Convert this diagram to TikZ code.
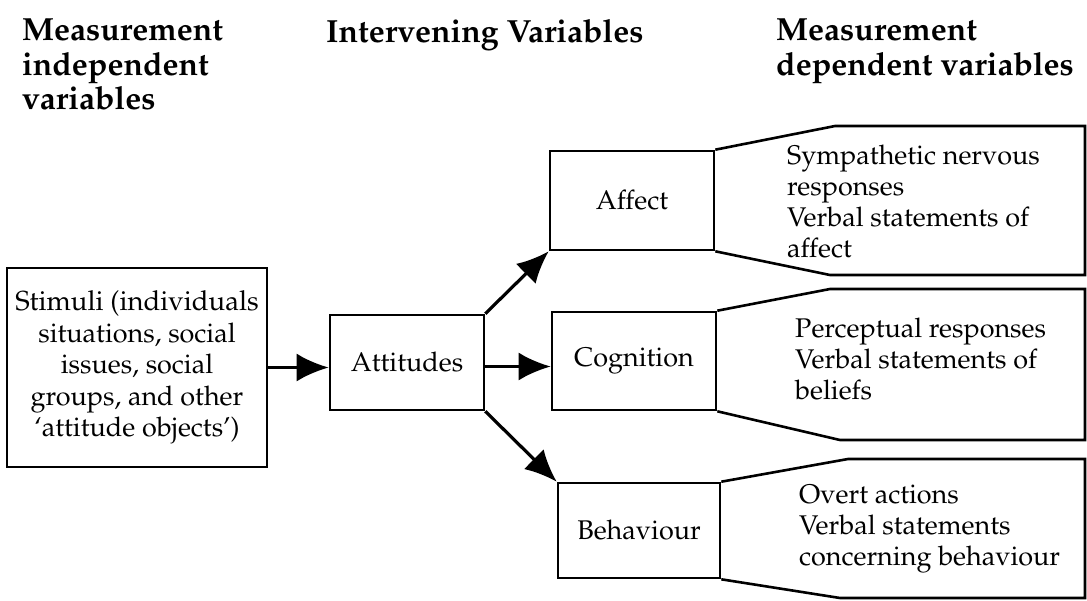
\documentclass[tikz,border=0pt]{standalone}
\usepackage[T1]{fontenc}
\usepackage{mathpazo}
\usetikzlibrary{arrows.meta}
\begin{document}
\begin{tikzpicture}[x=1pt,y=-1pt,
  box/.style={draw,line width=2.6pt,inner sep=0pt,font=\fontsize{27}{31.5}\selectfont},
  txt/.style={inner sep=0pt,align=left,anchor=base west,font=\fontsize{27}{31}\selectfont},
  head/.style={inner sep=0pt,align=left,anchor=north west,font=\fontsize{32}{34.5}\selectfont\bfseries},
  arr/.style={line width=3.2pt,-{Latex[length=32pt,width=28pt]}},
  callout/.style={line width=2.6pt,line join=miter}]
\useasboundingbox (0,0) rectangle (1087,600);
% headings
\node[head] (h1) at (22,19) {Measurement\\independent\\variables};
\node[head] (h2) at (326,19) {Intervening Variables};
\node[head] (h3) at (776,19) {Measurement\\dependent variables};
% boxes
\node[box,minimum width=260pt,minimum height=199pt,align=center] (stim) at (137,367.5)
  {\fontsize{27.5}{31.5}\selectfont Stimuli (individuals\\situations, social\\issues, social\\groups, and other\\`attitude objects')};
\node[box,minimum width=154pt,minimum height=95pt] (att) at (407,362.5) {Attitudes};
\node[box,minimum width=164pt,minimum height=99pt] (aff) at (632,200.5) {Affect};
\node[box,minimum width=164pt,minimum height=98pt] (cog) at (634,361) {Cognition};
\node[box,minimum width=162pt,minimum height=95pt] (beh) at (639,530.5) {Behaviour};
% callouts
\draw[callout] (aff.north east) -- (835,126) -- (1085,126) -- (1085,275) -- (830,275) -- (aff.south east);
\draw[callout] (cog.north east) -- (830,289) -- (1085,289) -- (1085,440) -- (840,440) -- (cog.south east);
\draw[callout] (beh.north east) -- (848,459) -- (1085,459) -- (1085,598) -- (840,598) -- (beh.south east);
\node[txt] (taff) at (787,257) {Sympathetic nervous\\responses\\Verbal statements of\\affect};
\node[txt] (tcog) at (795,399) {Perceptual responses\\Verbal statements of\\beliefs};
\node[txt] (tbeh) at (799,565) {Overt actions\\Verbal statements\\concerning behaviour};
% arrows
\draw[arr] (stim.east) -- (stim.east -| att.west);
\draw[arr] ([yshift=-4pt]att.east) -- ([yshift=-4pt]att.east -| cog.west);
\draw[arr] (att.north east) -- (aff.south west);
\draw[arr] (att.south east) -- (beh.north west);
\end{tikzpicture}
\end{document}
